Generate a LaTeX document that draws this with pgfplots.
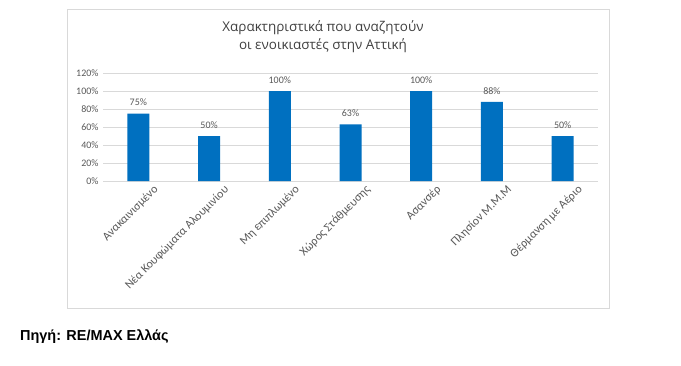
\documentclass[border=0pt]{standalone}
\usepackage{pgfplots}
\pgfplotsset{compat=1.18}
\usepackage{fontspec}
\setmainfont{Carlito}
\newfontfamily\titlefont{Open Sans}
\newfontfamily\srcfont{Liberation Sans}
\definecolor{barblue}{HTML}{0070C0}
\definecolor{txtgrey}{HTML}{595959}
\definecolor{titlegrey}{HTML}{404040}
\definecolor{gridgrey}{HTML}{D9D9D9}
\begin{document}
\begin{tikzpicture}[x=1bp,y=1bp]
\fill[white] (0,0) rectangle (681,365);
\draw[gridgrey, line width=0.8bp] (67,57) rectangle (609,356);
\node[text=titlegrey, align=center, font=\titlefont\fontsize{13.5}{18}\selectfont] at (323,328) {Χαρακτηριστικά που αναζητούν\\οι ενοικιαστές στην Αττική};
\node[anchor=west, inner sep=0pt, font=\srcfont\bfseries\fontsize{14.5}{16}\selectfont] at (20,28) {Πηγή: RE/MAX Ελλάς};
\begin{axis}[
  at={(103bp,184bp)}, anchor=south west,
  scale only axis, width=495bp, height=108bp,
  xmin=-0.5, xmax=6.5, ymin=0, ymax=120,
  ytick={0,20,...,120},
  xtick={0,...,6},
  xticklabels={Ανακαινισμένο, Νέα Κουφώματα Αλουμινίου, Μη επιπλωμένο, Χώρος Στάθμευσης, Ασανσέρ, Πλησίον Μ.Μ.Μ, Θέρμανση με Αέριο},
  /pgf/number format/assume math mode=true,
  yticklabel={\pgfmathprintnumber{\tick}\%},
  axis line style={draw=none},
  major tick length=0pt,
  ymajorgrids, grid style={gridgrey, line width=0.6bp},
  tick label style={text=txtgrey, font=\fontsize{10}{11}\selectfont},
  xticklabel style={rotate=45, anchor=north east, inner sep=1bp, xshift=9bp, yshift=-11bp, font=\fontsize{12}{13}\selectfont},
  yticklabel style={xshift=-1bp},
  ybar, bar width=22bp,
  nodes near coords={\pgfmathprintnumber{\pgfplotspointmeta}\%},
  nodes near coords style={text=txtgrey, font=\fontsize{10}{11}\selectfont, /pgf/number format/assume math mode=true, anchor=south, yshift=4bp},
]
\addplot[fill=barblue, draw=none] coordinates {(0,75) (1,50) (2,100) (3,63) (4,100) (5,88) (6,50)};
\end{axis}
\end{tikzpicture}
\end{document}
